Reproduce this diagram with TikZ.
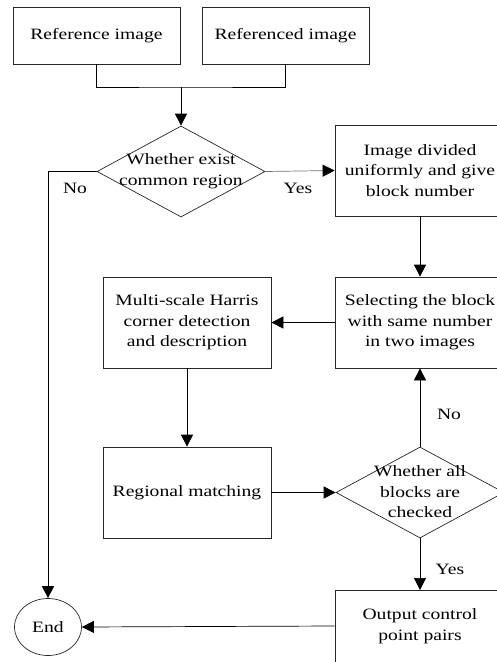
\documentclass[tikz,border=0pt]{standalone}
\usepackage{fontspec}
\setmainfont[FakeStretch=1.24]{Liberation Serif}
\usetikzlibrary{arrows.meta,shapes.geometric}
\begin{document}
\begin{tikzpicture}[x=1pt,y=1pt,
  every node/.style={font=\fontsize{15.8}{20.5}\selectfont},
  boxn/.style={draw=black!85,line width=0.7pt,rectangle,minimum width=168,minimum height=91,inner sep=0pt,align=center},
  diam/.style={draw=black!85,line width=0.7pt,diamond,minimum width=168,minimum height=91,inner sep=0pt},
  txt/.style={align=center,inner sep=0pt},
  conn/.style={draw=black,line width=0.7pt},
  arr/.style={conn,-{Triangle[length=12pt,width=12pt,color=black]}}]
\useasboundingbox (0,0) rectangle (497,-662);
\node[boxn,minimum width=167,minimum height=57] (b1) at (96.5,-35.5) {Reference image};
\node[boxn,minimum width=167,minimum height=57] (b2) at (285.5,-35.5) {Referenced image};
\node[diam] (d1) at (181,-171.5) {};
\node[txt] (d1t) at (181,-171) {Whether exist\\common region};
\node[boxn,minimum width=170] (b3) at (420,-170.5) {Image divided\\uniformly and give\\block number};
\node[boxn,minimum width=170] (b4) at (420,-322.5) {Selecting the block\\with same number\\in two images};
\node[boxn] (b5) at (187,-322.5) {Multi-scale Harris\\corner detection\\and description};
\node[boxn] (b6) at (187,-492.5) {Regional matching};
\node[diam] (d2) at (420,-492.5) {};
\node[txt] (d2t) at (420,-492) {Whether all\\blocks are\\checked};
\node[boxn,minimum width=170,anchor=north] (b7) at (420,-590) {};
\node[txt] (b7t) at (420,-626) {Output control\\point pairs};
\node[draw=black!85,line width=0.7pt,ellipse,minimum width=67,minimum height=57,inner sep=0pt] (e) at (48,-627) {End};
\coordinate (j) at (181,-87);
\draw[conn] (b1.south) |- (j) -| (b2.south);
\draw[arr] (j) -- (d1.north);
\draw[arr] (d1.west) -| (e.north);
\draw[arr,draw=black!55] (d1.east) -- (b3.west);
\draw[arr] (b3.south) -- (b4.north);
\draw[arr] (b4.west) -- (b5.east);
\draw[arr] (b5.south) -- (b6.north);
\draw[arr] (b6.east) -- (d2.west);
\draw[arr] (d2.north) -- (b4.south);
\draw[arr] (d2.south) -- (b7.north);
\draw[arr] (b7t -| b7.west) -- (e.east);
\node[txt] (no1) at (75,-188) {No};
\node[txt] (yes1) at (298,-188) {Yes};
\node[txt] (no2) at (449,-414) {No};
\node[txt] (yes2) at (450,-569) {Yes};
\end{tikzpicture}
\end{document}
